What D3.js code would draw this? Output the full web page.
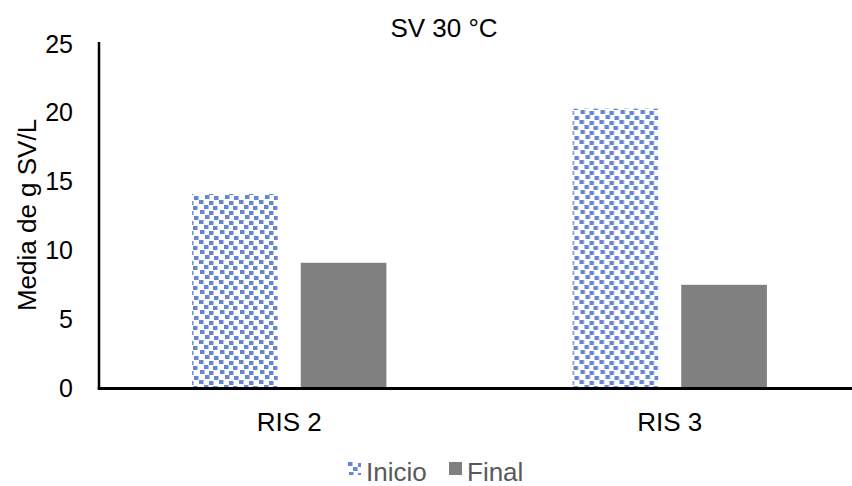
<!DOCTYPE html>
<html>
<head>
<meta charset="utf-8">
<script src="https://cdn.jsdelivr.net/npm/d3@7/dist/d3.min.js"></script>
<style>
  html, body { margin: 0; padding: 0; background: #fff; }
  svg { display: block; font-family: "Liberation Sans", Arial, sans-serif; }
</style>
</head>
<body>
<svg id="chart" width="852" height="486"></svg>
<script>
// Solids content at 30 °C, start vs end, per reactor
const categories = ["RIS 2", "RIS 3"];
const seriesNames = ["Inicio", "Final"];
const inicioValues = [14.1, 20.3];
const finalValues = [9.1, 7.5];
const yTicks = [0, 5, 10, 15, 20, 25];

const svg = d3.select("#chart");
const W = 852, H = 486;
const plot = { left: 99, right: 860, top: 44, bottom: 388 };
const FONT = "Liberation Sans, Arial, sans-serif";

// Confetti-style pattern for the "Inicio" series
const defs = svg.append("defs");
const pat = defs.append("pattern")
  .attr("id", "confetti")
  .attr("patternUnits", "userSpaceOnUse")
  .attr("width", 20).attr("height", 20);
const blue = "#6585D6";
[[0, 0], [10, 1], [5, 5], [14, 6], [1, 10], [10, 11], [6, 15], [15, 16]].forEach(([px, py]) => {
  pat.append("rect").attr("x", px).attr("y", py).attr("width", 4.5).attr("height", 4).attr("fill", blue);
});

const x0 = d3.scaleBand().domain(categories).range([plot.left, plot.right]).paddingInner(0).paddingOuter(0);
const x1 = d3.scaleBand().domain(seriesNames).range([0, x0.bandwidth()]).paddingInner(0.212).paddingOuter(0.857);
const y = d3.scaleLinear().domain([0, 25]).range([plot.bottom, plot.top]);

const rows = categories.map((c, i) => ({ cat: c, vals: [
  { s: "Inicio", v: inicioValues[i] },
  { s: "Final", v: finalValues[i] }
]}));

const fills = { Inicio: "url(#confetti)", Final: "#808080" };

svg.append("g").selectAll("g").data(rows).join("g")
  .attr("transform", d => `translate(${x0(d.cat)},0)`)
  .selectAll("rect").data(d => d.vals).join("rect")
  .attr("x", d => x1(d.s))
  .attr("width", x1.bandwidth())
  .attr("y", d => y(d.v))
  .attr("height", d => y(0) - y(d.v))
  .attr("fill", d => fills[d.s]);

// Y axis: labels only, plus the vertical line
const yAxis = d3.axisLeft(y).tickValues(yTicks).tickSize(0).tickPadding(0);
const gy = svg.append("g").attr("transform", `translate(${plot.left - 26},0)`).call(yAxis);
gy.select(".domain").remove();
gy.selectAll("text").attr("font-size", 25).attr("fill", "#000").attr("font-family", FONT);

svg.append("line")
  .attr("x1", plot.left).attr("x2", plot.left)
  .attr("y1", plot.top - 2).attr("y2", plot.bottom + 1)
  .attr("stroke", "#000").attr("stroke-width", 2.5);

// X axis
const xAxis = d3.axisBottom(x0).tickSize(0).tickPadding(25);
const gx = svg.append("g").attr("transform", `translate(0,${plot.bottom})`).call(xAxis);
gx.select(".domain").remove();
gx.selectAll("text").attr("font-size", 26).attr("fill", "#000").attr("font-family", FONT);

svg.append("line")
  .attr("x1", plot.left - 1.25).attr("x2", W)
  .attr("y1", plot.bottom + 0.5).attr("y2", plot.bottom + 0.5)
  .attr("stroke", "#000").attr("stroke-width", 3);

// Title
svg.append("text")
  .attr("x", 444).attr("y", 37)
  .attr("text-anchor", "middle")
  .attr("font-size", 26)
  .text("SV 30 °C");

// Y axis title
svg.append("text")
  .attr("transform", "translate(36,215) rotate(-90)")
  .attr("text-anchor", "middle")
  .attr("font-size", 26)
  .text("Media de g SV/L");

// Legend
const legend = svg.append("g").attr("transform", "translate(348,462)");
const items = [{ s: "Inicio", x: 0 }, { s: "Final", x: 101 }];
items.forEach(it => {
  legend.append("rect").attr("x", it.x).attr("y", 0).attr("width", 13).attr("height", 13)
    .attr("fill", it.s === "Inicio" ? "url(#confetti)" : "#808080");
  legend.append("text").attr("x", it.x + 18).attr("y", 19)
    .attr("font-size", 26).attr("fill", "#595959").text(it.s);
});
</script>
</body>
</html>
